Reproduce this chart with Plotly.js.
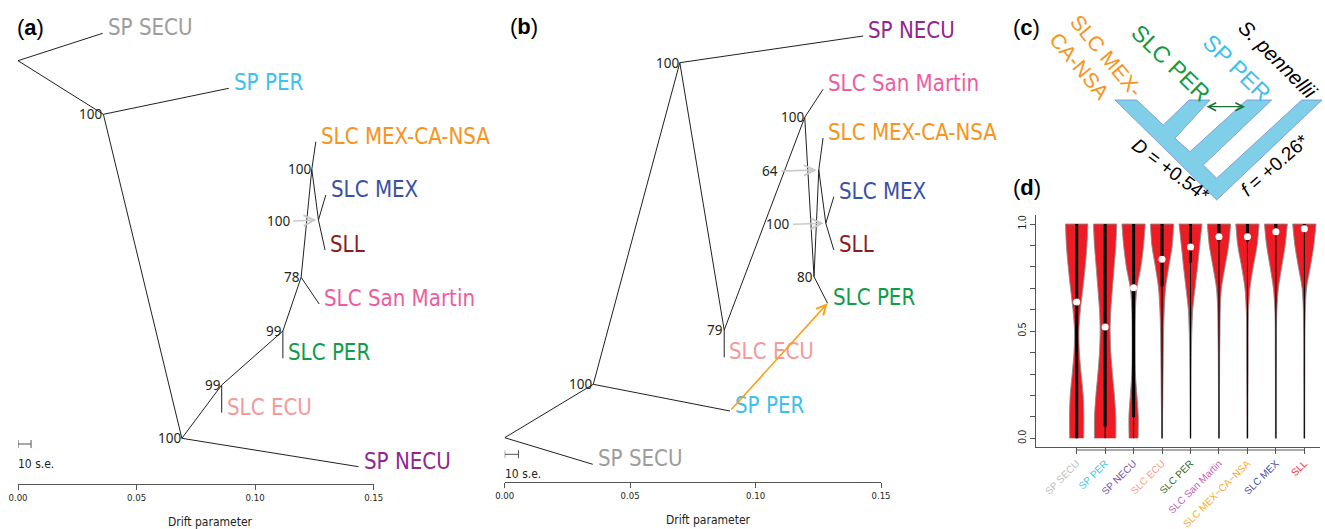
<!DOCTYPE html>
<html><head><meta charset="utf-8">
<script src="https://cdn.plot.ly/plotly-3.0.1.min.js"></script>
<style>html,body{margin:0;padding:0;background:#fff}#chart{width:1325px;height:529px}</style>
</head><body><div id="chart"></div>
<script>
// ---------------- DATA ----------------
// Panel (a) TreeMix tree, no migration: node names, drift (x), vertical layout position (y), parent
const treeA_nodes  = ["root","SP SECU","n1","SP PER","n2","SP NECU","n3","SLC ECU","n4","SLC PER","n5","SLC San Martin","n6","SLC MEX-CA-NSA","n7","SLC MEX","SLL"];
const treeA_drift  = [0, 0.0357, 0.0360, 0.0889, 0.0691, 0.1436, 0.0859, 0.0859, 0.1117, 0.1117, 0.1194, 0.1270, 0.1239, 0.1256, 0.1267, 0.1298, 0.1295];
const treeA_ypos   = [60.7, 33.3, 114.3, 88.3, 438.3, 466.7, 385, 412.7, 331, 358.3, 277.3, 304, 169.3, 141.7, 220, 195, 250];
const treeA_parent = [null,"root","root","n1","n1","n2","n2","n3","n3","n4","n4","n5","n5","n6","n6","n7","n7"];
const treeA_boot   = [null,null,100,null,100,null,99,null,99,null,78,null,100,null,100,null,null];
const treeA_callout= [null,null,null,null,null,null,null,null,null,null,null,null,null,null,0.1155,null,null];

// Panel (b) TreeMix tree with one migration edge
const treeB_nodes  = ["root","SP SECU","m1","SP PER","m2","SP NECU","m3","SLC ECU","m4","SLC San Martin","m5","SLC PER","m6","SLC MEX-CA-NSA","m7","SLC MEX","SLL"];
const treeB_drift  = [0, 0.0351, 0.0353, 0.0898, 0.0698, 0.1429, 0.0875, 0.0875, 0.1196, 0.1269, 0.1233, 0.1287, 0.1252, 0.1269, 0.1280, 0.1312, 0.1312];
const treeB_ypos   = [437.7, 464.3, 384.3, 411, 62.7, 36, 330, 357.3, 117.3, 89.3, 276.7, 303.3, 170, 138, 223.3, 196.7, 250];
const treeB_parent = [null,"root","root","m1","m1","m2","m2","m3","m3","m4","m4","m5","m5","m6","m6","m7","m7"];
const treeB_boot   = [null,null,100,null,100,null,79,null,100,null,80,null,64,null,100,null,null];
const treeB_callout= [null,null,null,null,null,null,null,null,null,null,null,null,0.1097,null,0.1143,null,null];
const treeB_migration = [["SP PER","SLC PER"]];

const scaleBarDrift = 0.0055;   // 10 s.e.
const driftTicks = [0, 0.05, 0.10, 0.15];
const driftTickText = ["0.00","0.05","0.10","0.15"];

// Panel (d) violin plot
const violinCats = ["SP SECU","SP PER","SP NECU","SLC ECU","SLC PER","SLC San Martin","SLC MEX\u2212CA\u2212NSA","SLC MEX","SLL"];
const densityLevels = [0,0.1,0.2,0.3,0.4,0.5,0.6,0.7,0.8,0.9,1.0];
const dens_SP_SECU  = [7, 7.2, 6.5, 4.5, 2.7, 2.2, 3.7, 6.2, 8.5, 10.3, 11.2];
const dens_SP_PER   = [10.7, 10.7, 9.3, 7.3, 5.7, 5, 5.7, 7.3, 9, 10.7, 11.7];
const dens_SP_NECU  = [4.5, 4.7, 3.3, 1.8, 1.5, 1.5, 1.8, 3.3, 7.3, 10, 11.7];
const dens_SLC_ECU  = [0.5, 0.5, 0.8, 1, 1.2, 1.5, 2.2, 3.5, 6.7, 10.2, 11.7];
const dens_SLC_PER  = [0.4, 0.4, 0.5, 0.6, 0.8, 1.3, 2.2, 4.5, 7, 9.2, 11.5];
const dens_SLC_SM   = [0.5, 0.5, 0.5, 0.6, 0.7, 1, 1.3, 2.5, 6, 9.7, 11.7];
const dens_SLC_MCN  = [0.5, 0.5, 0.6, 0.7, 0.8, 0.8, 1.2, 2.5, 5.8, 9.7, 11.7];
const dens_SLC_MEX  = [0.5, 0.5, 0.5, 0.5, 0.6, 0.6, 1, 2.5, 5.8, 9.3, 11.5];
const dens_SLL      = [0.4, 0.4, 0.4, 0.5, 0.5, 0.6, 1, 2.2, 6, 9.5, 11.7];
const violinDensities = [dens_SP_SECU, dens_SP_PER, dens_SP_NECU, dens_SLC_ECU, dens_SLC_PER, dens_SLC_SM, dens_SLC_MCN, dens_SLC_MEX, dens_SLL];
const violinMin    = [0,0,0,0,0,0,0,0,0];
const violinMax    = [1,1,1,1,1,1,1,1,1];
const violinQ1     = [0, 0.055, 0.10, 0.71, 0.82, 0.92, 0.92, 0.95, 0.97];
const violinQ3     = [1,1,1,1,1,1,1,1,1];
const violinMedian = [0.636, 0.519, 0.703, 0.836, 0.893, 0.940, 0.940, 0.964, 0.978];
const violinYTicks = [0,0.1,0.2,0.3,0.4,0.5,0.6,0.7,0.8,0.9,1.0];
const violinYTickText = ["0.0","","","","","0.5","","","","","1.0"];

// ---------------- STYLE ----------------
const W = 1325, H = 529;
const P = x => x / W, Q = y => 1 - y / H;
const ctx = document.createElement('canvas').getContext('2d');
function available(f){
  const s='abcdefghijklmnopqrstuvwxyzSLCMEXPER0123456789';
  let r=false;
  ['monospace','serif'].forEach(b=>{
    ctx.font='72px '+b; const w1=ctx.measureText(s).width;
    ctx.font='72px "'+f+'", '+b; const w2=ctx.measureText(s).width;
    if (Math.abs(w1-w2)>0.5) r=true;
  });
  return r;
}
const NARROW = ['Liberation Sans Narrow','Arial Narrow','DejaVu Sans Condensed','Roboto Condensed','Liberation Sans'].find(available) || 'Liberation Sans';
function fit(text, target){ ctx.font='100px "'+NARROW+'"'; return Math.round(1000*target/ctx.measureText(text).width)/10; }
const TIP_SIZE = fit('SLC San Martin', 151);
const TICK_SIZE = 9.5;
const TITLE_SIZE = 12;
const SE_SIZE = 12;
const SANS = "Liberation Sans, Arial, sans-serif";
const BOOTF = "Noto Sans, Open Sans, sans-serif";
const tipColors = {"SP SECU":"#9d9d9d","SP PER":"#3fc0ef","SLC MEX-CA-NSA":"#f7941d","SLC MEX":"#3a51a3","SLL":"#8b1c1f","SLC San Martin":"#ee5c9f","SLC PER":"#119c4a","SLC ECU":"#f59a9b","SP NECU":"#92278f"};
const violinLabelColors = ["#bdbdbd","#45c6e6","#7d4fa5","#f7a083","#276b3d","#c35cb7","#fbaa2c","#4052a8","#f22c2c"];

const traces = [];
const annotations = [];
const shapes = [];

function addTree(nodes, drift, ypos, parent, boot, callout, xa, ya) {
  const idx = {}; nodes.forEach((n,i)=>idx[n]=i);
  const xs=[], ys=[];
  nodes.forEach((n,i)=>{
    if (parent[i]===null) return;
    const p = idx[parent[i]];
    xs.push(drift[p], drift[i], null); ys.push(ypos[p], ypos[i], null);
  });
  traces.push({type:'scatter', mode:'lines', x:xs, y:ys, xaxis:xa, yaxis:ya,
    line:{color:'#231f20', width:1}, hoverinfo:'skip', showlegend:false, cliponaxis:false});
  nodes.forEach((n,i)=>{
    if (tipColors[n]) {
      annotations.push({xref:xa, yref:ya, x:drift[i], y:ypos[i], text:n, showarrow:false,
        xanchor:'left', yanchor:'middle', xshift:3, yshift:6,
        font:{family:NARROW, size:TIP_SIZE, color:tipColors[n]}});
    }
    if (boot[i]!==null) {
      if (callout[i]!==null) {
        annotations.push({xref:xa, yref:ya, x:callout[i], y:ypos[i]+1, text:String(boot[i]), showarrow:false,
          xanchor:'right', yanchor:'middle', xshift:0, font:{family:BOOTF, size:13.5, color:'#231f20'}});
        annotations.push({xref:xa, yref:ya, x:drift[i], y:ypos[i], axref:xa, ayref:ya, ax:callout[i], ay:ypos[i]+1,
          text:'', showarrow:true, arrowhead:5, arrowsize:1.3, arrowwidth:1.6, arrowcolor:'#c9c9c9', standoff:2});
      } else {
        annotations.push({xref:xa, yref:ya, x:drift[i], y:ypos[i], text:String(boot[i]), showarrow:false,
          xanchor:'right', yanchor:'middle', xshift:1, yshift:0, font:{family:BOOTF, size:13.5, color:'#231f20'}});
      }
    }
  });
  return idx;
}

addTree(treeA_nodes, treeA_drift, treeA_ypos, treeA_parent, treeA_boot, treeA_callout, 'x', 'y');
const idxB = addTree(treeB_nodes, treeB_drift, treeB_ypos, treeB_parent, treeB_boot, treeB_callout, 'x2', 'y2');
treeB_migration.forEach(([from,to])=>{
  const a = idxB[from], b = idxB[to];
  annotations.push({xref:'x2', yref:'y2', axref:'x2', ayref:'y2', x:treeB_drift[b], y:treeB_ypos[b],
    ax:treeB_drift[a], ay:treeB_ypos[a], text:'', showarrow:true, arrowhead:5, arrowsize:1.2,
    arrowwidth:1.6, arrowcolor:'#f9a11b', standoff:0});
});

// scale bars
function addScale(xa, ya, yv) {
  traces.push({type:'scatter', mode:'lines', xaxis:xa, yaxis:ya, hoverinfo:'skip', showlegend:false, cliponaxis:false,
    x:[0, scaleBarDrift, null, 0, 0, null, scaleBarDrift, scaleBarDrift],
    y:[yv, yv, null, yv-4, yv+4, null, yv-4, yv+4], line:{color:'#555', width:1}});
  annotations.push({xref:xa, yref:ya, x:0, y:yv+19.5, text:'10 s.e.', showarrow:false, xanchor:'left', yanchor:'middle',
    xshift:-2, font:{family:NARROW, size:SE_SIZE, color:'#231f20'}});
}
addScale('x','y',444);
addScale('x2','y2',454.3);

// axis titles
annotations.push({xref:'paper', yref:'paper', x:P(210), y:Q(522), text:'Drift parameter', showarrow:false,
  xanchor:'center', yanchor:'middle', font:{family:NARROW, size:TITLE_SIZE, color:'#231f20'}});
annotations.push({xref:'paper', yref:'paper', x:P(708), y:Q(520), text:'Drift parameter', showarrow:false,
  xanchor:'center', yanchor:'middle', font:{family:NARROW, size:TITLE_SIZE, color:'#231f20'}});

// panel letters
[["a",15,28],["b",508,26],["c",1011,27],["d",1011,187]].forEach(([l,x,y])=>{
  annotations.push({xref:'paper', yref:'paper', x:P(x), y:Q(y), text:'(<b>'+l+'</b>)', showarrow:false,
    xanchor:'left', yanchor:'middle', font:{family:SANS, size:22, color:'#000'}});
});

// ---------------- Panel (c) schematic ----------------
const cTreeX = [1115,1136.7,1163.3,1189,1210,1175,1190,1246.7,1271.7,1203.3,1216.7,1301.7,1322,1216.7];
const cTreeY = [100,100,125,100,100,138.3,151.7,100,100,165,178.3,100,100,200];
let path = '';
cTreeX.forEach((x,i)=>{ path += (i?'L':'M') + P(x).toFixed(5) + ',' + Q(cTreeY[i]).toFixed(5) + ' '; });
path += 'Z';
shapes.push({type:'path', xref:'paper', yref:'paper', path:path, fillcolor:'#80cfe9', line:{color:'#7a8ed0', width:0.8}, layer:'above'});
annotations.push({xref:'paper', yref:'paper', axref:'paper', ayref:'paper', x:P(1245), y:Q(106.7), ax:P(1205), ay:Q(106.7),
  text:'', showarrow:true, arrowside:'end+start', arrowhead:5, startarrowhead:5, arrowsize:1.3, startarrowsize:1.3,
  arrowwidth:1.2, arrowcolor:'#1a6f37'});
const cLabels = [
  {t:'SLC MEX-<br>CA-NSA', x:1096, y:64, a:50, c:'#f7941d', s:21, al:'left'},
  {t:'SLC PER', x:1171, y:62.5, a:44, c:'#0e9a47', s:23, al:'center'},
  {t:'SP PER', x:1237.3, y:67.8, a:44, c:'#3dbfee', s:23, al:'center'},
  {t:'<i>S. pennellii</i>', x:1278, y:60, a:45, c:'#000', s:20.5, al:'center'},
  {t:'<i>D</i> = +0.54*', x:1170, y:170, a:37, c:'#000', s:19, al:'center'},
  {t:'<i>f</i> = +0.26*', x:1274, y:165, a:-41, c:'#000', s:19, al:'center'}
];
cLabels.forEach(o=>annotations.push({xref:'paper', yref:'paper', x:P(o.x), y:Q(o.y), text:o.t, textangle:o.a,
  showarrow:false, xanchor:'center', yanchor:'middle', align:o.al, font:{family:SANS, size:o.s, color:o.c}}));

// ---------------- Panel (d) violins ----------------
const maxDens = 11.7, maxHalf = 0.41;
violinDensities.forEach((d,i)=>{
  const xs=[], ys=[];
  const n = densityLevels.length;
  xs.push(i + d[0]/maxDens*maxHalf); ys.push(densityLevels[0]);
  for (let k=0;k<n;k++){ xs.push(i + d[k]/maxDens*maxHalf); ys.push(densityLevels[k]); }
  xs.push(i + d[n-1]/maxDens*maxHalf); ys.push(densityLevels[n-1]);
  xs.push(i - d[n-1]/maxDens*maxHalf); ys.push(densityLevels[n-1]);
  for (let k=n-1;k>=0;k--){ xs.push(i - d[k]/maxDens*maxHalf); ys.push(densityLevels[k]); }
  xs.push(i - d[0]/maxDens*maxHalf); ys.push(densityLevels[0]);
  traces.push({type:'scatter', mode:'lines', x:xs, y:ys, xaxis:'x4', yaxis:'y4', fill:'toself', fillcolor:'#ed1c24',
    line:{color:'#8c8c8c', width:0.9, shape:'spline', smoothing:0.8, simplify:false}, hoverinfo:'skip', showlegend:false});
});
const wx=[], wy=[], bx=[], by=[];
violinCats.forEach((c,i)=>{
  wx.push(i,i,null); wy.push(violinMin[i], violinMax[i], null);
  bx.push(i,i,null); by.push(violinQ1[i], violinQ3[i], null);
});
traces.push({type:'scatter', mode:'lines', x:wx, y:wy, xaxis:'x4', yaxis:'y4', line:{color:'#000', width:1}, hoverinfo:'skip', showlegend:false});
traces.push({type:'scatter', mode:'lines', x:bx, y:by, xaxis:'x4', yaxis:'y4', line:{color:'#000', width:3}, hoverinfo:'skip', showlegend:false});
traces.push({type:'scatter', mode:'markers', x:violinCats.map((c,i)=>i), y:violinMedian, xaxis:'x4', yaxis:'y4',
  marker:{color:'#fff', size:7, line:{width:0}}, hoverinfo:'skip', showlegend:false, cliponaxis:false});

const X4R = [-1.43, 8.55];
const catPx = i => 1036 + (i - X4R[0]) / (X4R[1]-X4R[0]) * (1320-1036);
shapes.push({type:'line', xref:'paper', yref:'paper', x0:P(catPx(0)), x1:P(catPx(violinCats.length-1)), y0:Q(450), y1:Q(450),
  line:{color:'#555', width:1}});

const treeAxis = (d0,d1,anchor)=>({domain:[P(d0),P(d1)], range:[0,0.15], anchor:anchor, tickvals:driftTicks, ticktext:driftTickText,
  ticks:'outside', ticklen:5, tickwidth:1, tickcolor:'#555', showline:true, linecolor:'#555', linewidth:1,
  showgrid:false, zeroline:false, tickfont:{family:NARROW, size:TICK_SIZE, color:'#231f20'}, fixedrange:true});

const layout = {
  width:W, height:H, margin:{l:0,r:0,t:0,b:0}, paper_bgcolor:'#fff', plot_bgcolor:'rgba(0,0,0,0)', showlegend:false,
  xaxis: treeAxis(18, 373.7, 'y'),
  yaxis: {domain:[Q(484),1], range:[484,0], visible:false, anchor:'x', fixedrange:true},
  xaxis2: treeAxis(504.7, 881, 'y2'),
  yaxis2: {domain:[Q(481.7),1], range:[481.7,0], visible:false, anchor:'x2', fixedrange:true},
  xaxis4: {domain:[P(1036),P(1320)], range:X4R, anchor:'y4', tickvals:violinCats.map((c,i)=>i),
    ticktext:violinCats.map((c,i)=>'<span style="color:'+violinLabelColors[i]+'">'+c+'</span>'),
    tickangle:-45, ticks:'outside', ticklen:6, tickcolor:'#555', showline:true, linecolor:'#555', linewidth:1,
    showgrid:false, zeroline:false, tickfont:{family:SANS, size:10}},
  yaxis4: {domain:[Q(446.7),Q(215)], range:[-0.039,1.042], anchor:'x4', tickvals:violinYTicks, ticktext:violinYTickText,
    tickangle:-90, ticks:'outside', ticklen:5, tickcolor:'#555', showline:true, linecolor:'#555', linewidth:1,
    showgrid:false, zeroline:false, tickfont:{family:SANS, size:10, color:'#231f20'}},
  annotations:annotations, shapes:shapes
};
Plotly.newPlot('chart', traces, layout, {staticPlot:true, displayModeBar:false});
</script></body></html>
